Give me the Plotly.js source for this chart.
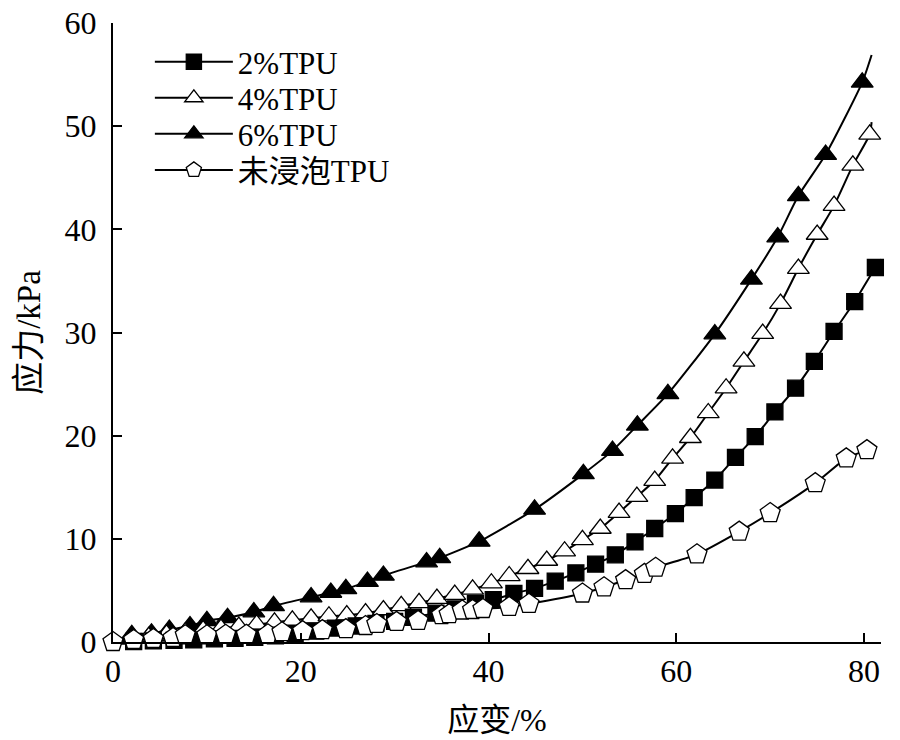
<!DOCTYPE html>
<html>
<head>
<meta charset="utf-8">
<script src="https://cdn.plot.ly/plotly-3.0.1.min.js"></script>
<style>html,body{margin:0;padding:0;background:#fff;}#chart{width:900px;height:740px;}</style>
</head>
<body>
<div id="chart"></div>
<script>
// ---- data ----
const seriesNames = ['2%TPU', '4%TPU', '6%TPU', '未浸泡TPU'];

// 2%TPU (filled squares)
const s2x = [2.2, 4.3, 6.5, 8.6, 10.8, 13.0, 15.1, 17.3, 19.4, 21.6, 23.7, 25.9, 28.0, 30.0, 32.0, 34.4, 36.5, 38.6, 40.5, 42.7, 44.9, 47.1, 49.3, 51.4, 53.5, 55.6, 57.7, 59.9, 61.9, 64.1, 66.3, 68.4, 70.5, 72.7, 74.7, 76.8, 79.0, 81.2];
const s2y = [0.05, 0.1, 0.15, 0.2, 0.3, 0.35, 0.45, 0.6, 0.8, 1.05, 1.35, 1.55, 1.8, 2.0, 2.4, 2.8, 3.2, 3.75, 4.1, 4.7, 5.2, 5.9, 6.7, 7.55, 8.45, 9.7, 11.0, 12.45, 14.0, 15.7, 17.9, 19.9, 22.3, 24.6, 27.2, 30.1, 33.0, 36.3];
const s2Start = [0, 0];
const s2End = [81.8, 37.1];

// 4%TPU (open triangles)
const s4x = [1.9, 3.8, 5.7, 7.7, 9.6, 11.5, 13.4, 15.3, 17.2, 19.1, 21.1, 23.0, 24.9, 26.9, 28.8, 30.7, 32.6, 34.5, 36.4, 38.3, 40.3, 42.2, 44.2, 46.2, 48.1, 50.0, 51.9, 53.9, 55.8, 57.7, 59.6, 61.5, 63.4, 65.3, 67.2, 69.2, 71.1, 73.0, 75.0, 76.8, 78.8, 80.6];
const s4y = [0.25, 0.5, 0.75, 0.95, 1.15, 1.3, 1.5, 1.7, 1.9, 2.1, 2.3, 2.5, 2.6, 2.8, 3.1, 3.5, 3.8, 4.2, 4.6, 5.1, 5.7, 6.4, 7.1, 7.9, 8.8, 9.9, 11.0, 12.55, 14.1, 15.65, 17.8, 19.8, 22.2, 24.6, 27.2, 29.9, 32.8, 36.2, 39.5, 42.3, 46.2, 49.2];
const s4Start = [0, 0];
const s4End = [80.8, 50.4];

// 6%TPU (filled triangles)
const s6x = [2.0, 4.1, 6.0, 8.2, 10.0, 12.2, 15.0, 17.1, 21.1, 23.2, 24.8, 27.1, 28.8, 33.4, 34.8, 39.0, 44.9, 50.1, 53.2, 55.85, 59.1, 64.1, 68.0, 70.8, 73.0, 75.9, 79.8];
const s6y = [0.7, 0.85, 1.2, 1.55, 2.05, 2.35, 2.9, 3.5, 4.35, 4.8, 5.15, 5.85, 6.45, 7.75, 8.15, 9.75, 12.85, 16.3, 18.55, 21.0, 24.05, 29.85, 35.15, 39.25, 43.25, 47.25, 54.25];
const s6Start = [0, 0];
const s6End = [80.8, 56.9];

// 未浸泡TPU (open pentagons)
const s0x = [0, 2.2, 4.3, 6.4, 7.7, 10.0, 12.0, 14.2, 16.5, 18.0, 20.2, 22.3, 24.8, 26.9, 28.1, 30.2, 32.5, 35.0, 35.8, 37.2, 38.3, 39.4, 42.2, 44.3, 50.0, 52.3, 54.6, 56.6, 57.8, 62.2, 66.7, 70.0, 74.8, 78.1, 80.3];
const s0y = [0, 0.2, 0.3, 0.4, 0.65, 0.65, 0.7, 0.7, 0.75, 0.95, 1.05, 1.15, 1.25, 1.55, 1.75, 1.95, 2.05, 2.6, 2.7, 3.05, 3.1, 3.2, 3.4, 3.7, 4.7, 5.3, 6.0, 6.6, 7.2, 8.5, 10.7, 12.5, 15.4, 17.8, 18.6];

const xTicks = [0, 20, 40, 60, 80];
const yTicks = [0, 10, 20, 30, 40, 50, 60];
const xTitle = '应变/%';
const yTitle = '应力/kPa';

// ---- build traces ----
function withEnds(xs, ys, start, end) {
  const x = [], y = [], sz = [];
  if (start) { x.push(start[0]); y.push(start[1]); sz.push(0); }
  xs.forEach((v, i) => { x.push(v); y.push(ys[i]); sz.push(1); });
  if (end) { x.push(end[0]); y.push(end[1]); sz.push(0); }
  return {x, y, sz};
}

const serif = 'Liberation Serif, Noto Sans CJK SC';

function makeTrace(name, d, symbol, fill, size, legendId) {
  return {
    type: 'scatter', mode: 'lines+markers', name: name, legend: legendId,
    x: d.x, y: d.y,
    line: {color: '#000', width: 2, shape: 'spline', smoothing: 0.6},
    marker: {symbol: symbol, color: fill, opacity: 1, size: d.sz.map(s => s * size),
             line: {color: '#000', width: 1.3}},
    cliponaxis: false
  };
}

const d2 = withEnds(s2x, s2y, s2Start, s2End);
const d4 = withEnds(s4x, s4y, s4Start, s4End);
const d6 = withEnds(s6x, s6y, s6Start, s6End);
const d0 = withEnds(s0x, s0y, null, null);

const traces = [
  makeTrace(seriesNames[2], d6, 'triangle-up', '#000', 19, 'legend3'),
  makeTrace(seriesNames[1], d4, 'triangle-up', '#fff', 19, 'legend2'),
  makeTrace(seriesNames[0], d2, 'square', '#000', 16, 'legend'),
  makeTrace(seriesNames[3], d0, 'pentagon', '#fff', 21, 'legend4')
];

const tickFont = {family: serif, size: 32, color: '#000'};
const legFont = {family: serif, size: 31, color: '#000'};

function legendAt(yPix) {
  return {
    x: 0.048, y: (641 - yPix) / 618, xanchor: 'left', yanchor: 'middle',
    font: legFont, bgcolor: 'rgba(0,0,0,0)', borderwidth: 0, itemwidth: 78
  };
}

const layout = {
  width: 900, height: 740,
  margin: {l: 113, r: 19, t: 23, b: 98},
  paper_bgcolor: '#fff', plot_bgcolor: '#fff',
  showlegend: true,
  legend: legendAt(62),
  legend2: legendAt(98),
  legend3: legendAt(134),
  legend4: legendAt(170),
  xaxis: {
    range: [0, 81.8], tickvals: xTicks, ticktext: xTicks.map(String),
    ticks: 'inside', ticklen: 9, tickwidth: 2, tickcolor: '#000',
    showline: true, linecolor: '#000', linewidth: 2, mirror: false,
    showgrid: false, zeroline: false, tickfont: tickFont,
    title: {text: xTitle, font: {family: serif, size: 32, color: '#000'}, standoff: 20}
  },
  yaxis: {
    range: [0, 60], tickvals: yTicks, ticktext: yTicks.map(String),
    ticks: 'inside', ticklen: 9, tickwidth: 2, tickcolor: '#000',
    showline: true, linecolor: '#000', linewidth: 2, mirror: false,
    showgrid: false, zeroline: false, tickfont: tickFont, ticklabelstandoff: 8,
    title: {text: yTitle, font: {family: serif, size: 33, color: '#000'}, standoff: 14}
  }
};

Plotly.newPlot('chart', traces, layout, {staticPlot: true, displayModeBar: false});
</script>
</body>
</html>
